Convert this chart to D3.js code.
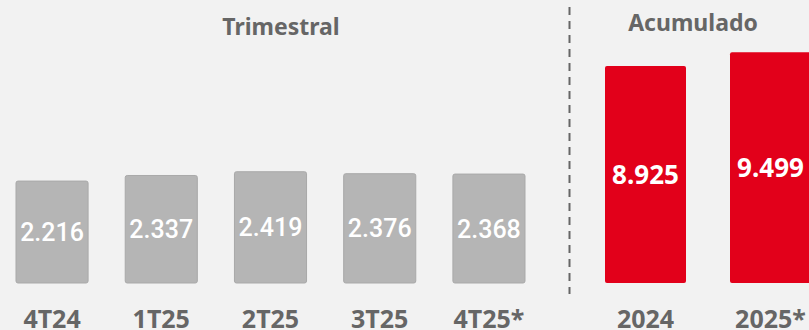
<!DOCTYPE html>
<html>
<head>
<meta charset="utf-8">
<script src="https://cdn.jsdelivr.net/npm/d3@7"></script>
<style>
  body { margin: 0; background: #f2f2f2; }
  svg { display: block; }
</style>
</head>
<body>
<div id="chart"></div>
<script>
// Data
var quarters = ["4T24", "1T25", "2T25", "3T25", "4T25*"];
var quarterValues = [2216, 2337, 2419, 2376, 2368];
var years = ["2024", "2025*"];
var yearValues = [8925, 9499];

var width = 809, height = 330;

var svg = d3.select("#chart")
	.append("svg")
	.attr("width", width)
	.attr("height", height);

svg.append("rect")
	.attr("width", width)
	.attr("height", height)
	.attr("fill", "#f2f2f2");

var fmt = function(v) { return d3.format(",")(v).replace(",", "."); };

// Scales - quarterly and cumulative panels use their own y scale
var xQ = d3.scaleBand()
	.domain(quarters)
	.range([16, 525])
	.paddingInner(0.34)
	.paddingOuter(0);

var yQ = d3.scaleLinear()
	.domain([0, 2500])
	.range([283, 168]);

var xA = d3.scaleBand()
	.domain(years)
	.range([605, 811])
	.paddingInner(0.352)
	.paddingOuter(0);

var yA = d3.scaleLinear()
	.domain([0, 10000])
	.range([283, 40]);

var qData = quarters.map(function(d, i) { return {cat: d, value: quarterValues[i]}; });
var aData = years.map(function(d, i) { return {cat: d, value: yearValues[i]}; });

// Quarterly bars
svg.append("g")
	.selectAll("rect")
	.data(qData)
	.enter()
	.append("rect")
		.attr("x", function(d) { return xQ(d.cat); })
		.attr("y", function(d) { return yQ(d.value); })
		.attr("width", xQ.bandwidth())
		.attr("height", function(d) { return yQ(0) - yQ(d.value); })
		.attr("rx", 2)
		.attr("fill", "#b5b5b5")
		.attr("stroke", "#a9a9a9")
		.attr("stroke-width", 1);

svg.append("g")
	.selectAll("text")
	.data(qData)
	.enter()
	.append("text")
		.attr("x", function(d) { return xQ(d.cat) + xQ.bandwidth() / 2; })
		.attr("y", function(d) { return (yQ(d.value) + yQ(0)) / 2; })
		.attr("dy", "0.36em")
		.attr("text-anchor", "middle")
		.style("font-family", "Roboto, sans-serif")
		.style("font-weight", 500)
		.style("font-size", "25px")
		.attr("fill", "#ffffff")
		.text(function(d) { return fmt(d.value); });

// Cumulative bars
svg.append("g")
	.selectAll("rect")
	.data(aData)
	.enter()
	.append("rect")
		.attr("x", function(d) { return xA(d.cat); })
		.attr("y", function(d) { return yA(d.value); })
		.attr("width", xA.bandwidth())
		.attr("height", function(d) { return yA(0) - yA(d.value); })
		.attr("rx", 2)
		.attr("fill", "#e2001a");

svg.append("g")
	.selectAll("text")
	.data(aData)
	.enter()
	.append("text")
		.attr("x", function(d) { return xA(d.cat) + xA.bandwidth() / 2; })
		.attr("y", function(d) { return (yA(d.value) + yA(0)) / 2; })
		.attr("dy", "0.36em")
		.attr("text-anchor", "middle")
		.style("font-family", "'Noto Sans', sans-serif")
		.style("font-weight", 700)
		.style("font-size", "26px")
		.attr("fill", "#ffffff")
		.text(function(d) { return fmt(d.value); });

// Category labels
var catStyle = function(sel) {
	sel.attr("text-anchor", "middle")
		.style("font-family", "'Noto Sans', sans-serif")
		.style("font-weight", 700)
		.style("font-size", "25px")
		.attr("fill", "#666666");
};

svg.append("g")
	.selectAll("text")
	.data(quarters)
	.enter()
	.append("text")
		.attr("x", function(d) { return xQ(d) + xQ.bandwidth() / 2; })
		.attr("y", 328)
		.call(catStyle)
		.text(function(d) { return d; });

svg.append("g")
	.selectAll("text")
	.data(years)
	.enter()
	.append("text")
		.attr("x", function(d) { return xA(d) + xA.bandwidth() / 2; })
		.attr("y", 328)
		.call(catStyle)
		.text(function(d) { return d; });

// Section titles
svg.append("text")
	.attr("x", 281)
	.attr("y", 35)
	.attr("text-anchor", "middle")
	.style("font-family", "'Noto Sans', sans-serif")
	.style("font-weight", 700)
	.style("font-size", "23px")
	.attr("fill", "#666666")
	.text("Trimestral");

svg.append("text")
	.attr("x", 693)
	.attr("y", 31)
	.attr("text-anchor", "middle")
	.style("font-family", "'Noto Sans', sans-serif")
	.style("font-weight", 700)
	.style("font-size", "23px")
	.attr("fill", "#666666")
	.text("Acumulado");

// Dashed divider
svg.append("line")
	.attr("x1", 569.5)
	.attr("x2", 569.5)
	.attr("y1", 7)
	.attr("y2", 294)
	.attr("stroke", "#666666")
	.attr("stroke-width", 2)
	.attr("stroke-dasharray", "8 6");
</script>
</body>
</html>
